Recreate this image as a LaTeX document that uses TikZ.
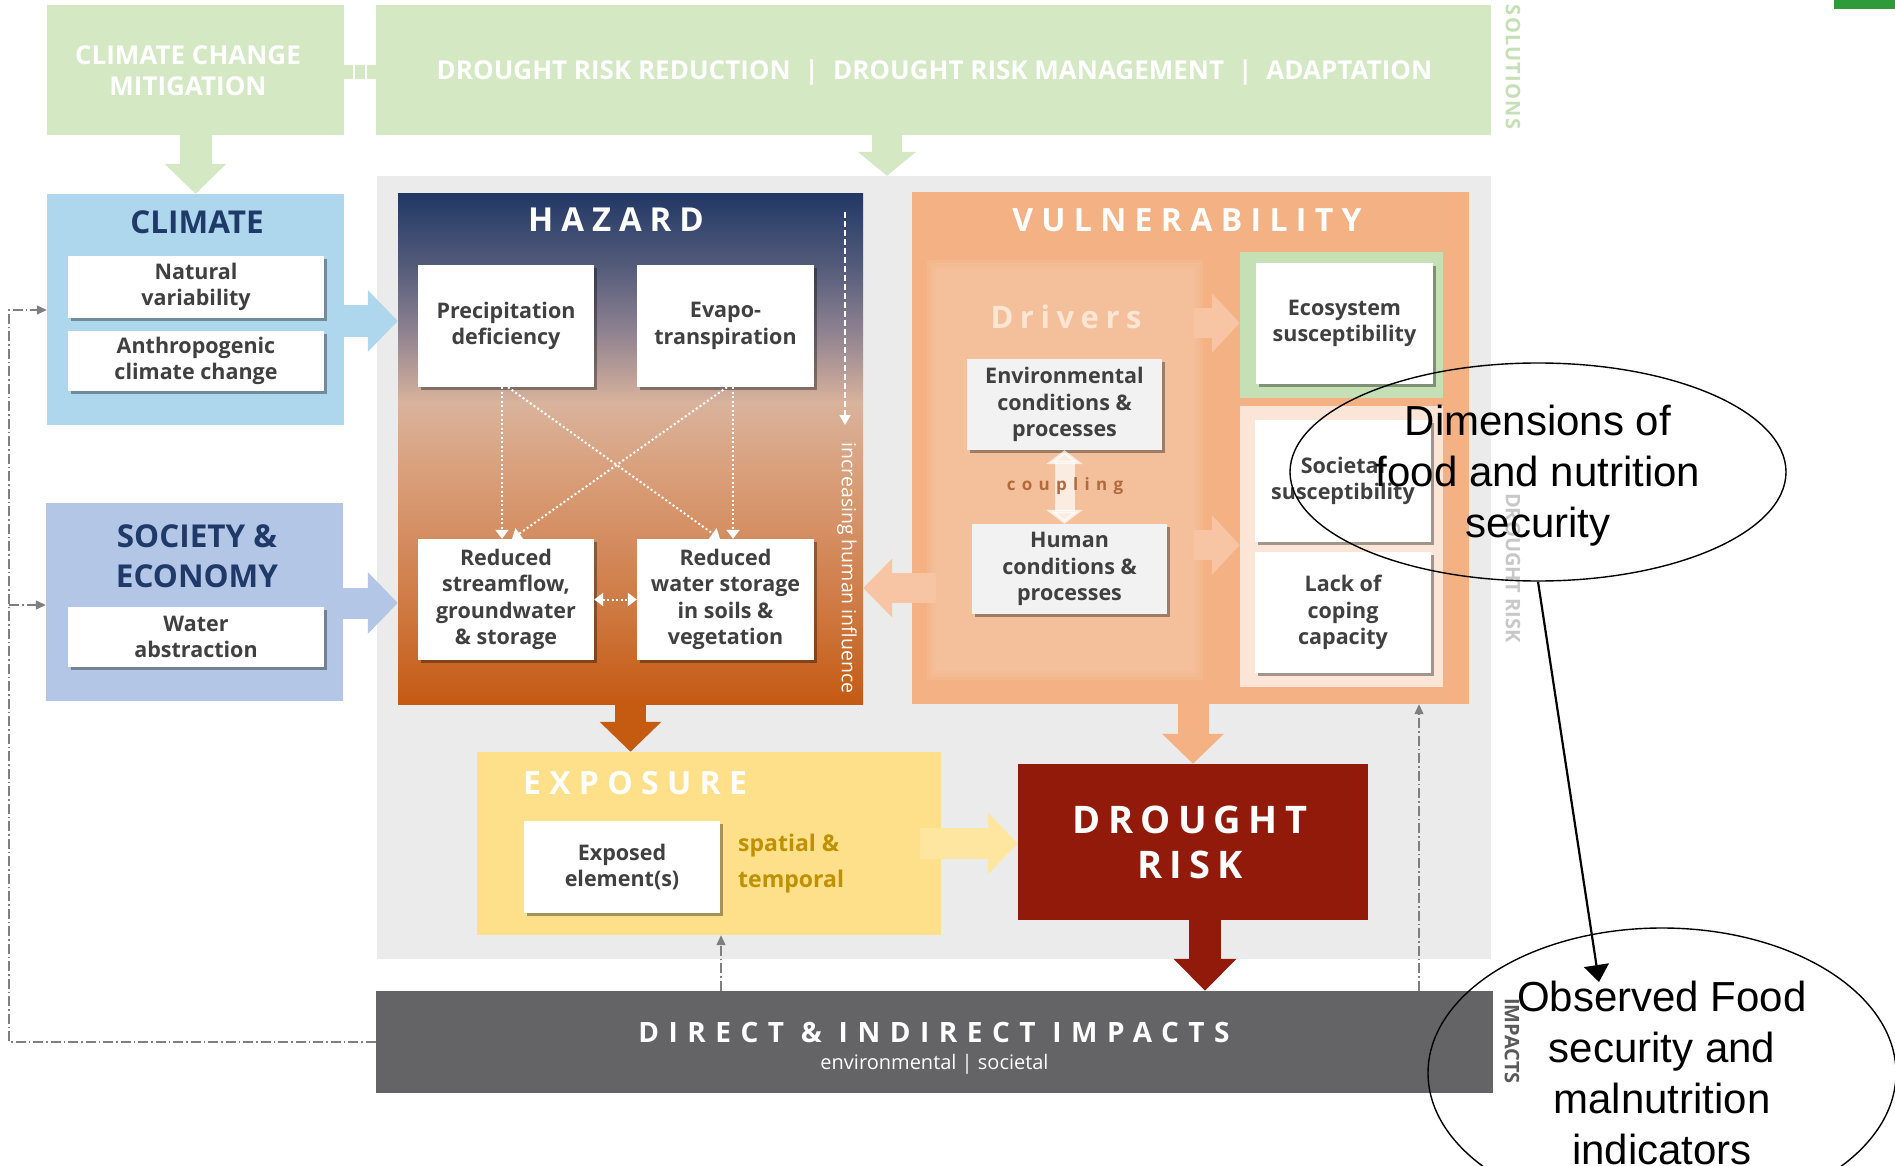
\documentclass[tikz,border=0pt]{standalone}
\usepackage{fontspec}
\setmainfont{Open Sans}
\newfontfamily\arialf{Liberation Sans}
\usetikzlibrary{arrows.meta,shapes.geometric,shadows}
\definecolor{solgreen}{HTML}{D4E8C4}
\definecolor{sollabel}{HTML}{C5E0B4}
\definecolor{topgreen}{HTML}{2E9B3B}
\definecolor{bggrey}{HTML}{EBEBEB}
\definecolor{climblue}{HTML}{AED6EC}
\definecolor{socblue}{HTML}{B4C6E6}
\definecolor{navy}{HTML}{1F3A68}
\definecolor{vulnor}{HTML}{F4B183}
\definecolor{drvfill}{HTML}{F7C5A3}
\definecolor{ecogreen}{HTML}{C5E0B4}
\definecolor{socpeach}{HTML}{FBE5D6}
\definecolor{expyellow}{HTML}{FEE08B}
\definecolor{exparrow}{HTML}{FEE6A0}
\definecolor{drred}{HTML}{921A0A}
\definecolor{impgrey}{HTML}{646466}
\definecolor{txtgrey}{HTML}{404040}
\definecolor{gold}{HTML}{BF9000}
\definecolor{hazarrow}{HTML}{C55A11}
\definecolor{fbgrey}{HTML}{7F7F7F}
\definecolor{drlabel}{HTML}{C8C8C8}
\definecolor{implabel}{HTML}{5A5A5A}
\definecolor{coupbrown}{HTML}{B06A3C}
\definecolor{drvtext}{HTML}{FDE5D4}
\definecolor{envgrey}{HTML}{F2F2F2}
\definecolor{hz0}{HTML}{C55A12}
\definecolor{hz1}{HTML}{CF7B45}
\definecolor{hz2}{HTML}{D9A07C}
\definecolor{hz3}{HTML}{D9B39C}
\definecolor{hz4}{HTML}{8F8291}
\definecolor{hz5}{HTML}{535B7A}
\definecolor{hz6}{HTML}{223865}
\pgfdeclareverticalshading{hazshade}{100bp}{color(0bp)=(hz0); color(25bp)=(hz0); color(35bp)=(hz1); color(48bp)=(hz2); color(54.5bp)=(hz3); color(61.5bp)=(hz4); color(68bp)=(hz5); color(75bp)=(hz6); color(100bp)=(hz6)}
\newcommand{\sptext}[2]{{\addfontfeature{LetterSpace=#1}#2}}
\begin{document}
\begin{tikzpicture}[x=1pt,y=-1pt,
  box/.style={rectangle, inner sep=0pt, draw=none},
  wbox/.style={box, fill=white, drop shadow={shadow xshift=3pt, shadow yshift=-3pt, opacity=0.35, fill=black}, text=txtgrey, font=\bfseries\fontsize{21.5}{26.5}\selectfont, align=center},
  gbox/.style={wbox, fill=envgrey},
  soltext/.style={inner sep=0pt, text=white, font=\bfseries\fontsize{26}{31}\selectfont, align=center},
  title/.style={inner sep=0pt, text=navy, font=\bfseries\fontsize{31.5}{40}\selectfont, align=center},
  wtitle/.style={inner sep=0pt, text=white, font=\bfseries\fontsize{32}{40}\selectfont, align=center},
  sidelabel/.style={inner sep=0pt, rotate=-90, font=\bfseries\fontsize{20}{20}\selectfont},
  barrow/.style={line width=31pt, -{Triangle[length=30pt 0 0, width=60pt 0 0]}},
  dotarr/.style={white, line width=2pt, dash pattern=on 2pt off 2.5pt, -{Triangle[length=9pt 0 0, width=13pt 0 0]}},
  fb/.style={fbgrey, line width=1.2pt, dash pattern=on 10pt off 3pt on 1.5pt off 3pt},
  fbtip/.style={-{Triangle[length=10pt 0 0, width=9pt 0 0]}},
  ann/.style={inner sep=0pt, text=black, font=\arialf\fontsize{42}{51}\selectfont, align=center}]
\clip (0,0) rectangle (1895,1166);
\fill[white] (0,0) rectangle (1895,1166);

% grey background
\node[box, fill=bggrey, minimum width=1114pt, minimum height=783pt] (bg) at (934,567.5) {};

% solutions
\node[box, fill=solgreen, minimum width=297pt, minimum height=130pt] (mit) at (195.5,70) {};
\node[soltext] (mittxt) at (188,71) {CLIMATE CHANGE\\MITIGATION};
\node[box, fill=solgreen, minimum width=1115pt, minimum height=130pt] (drr) at (933.5,70) {};
\node[soltext, anchor=base] (drrtxt) at (934.5,80) {DROUGHT RISK REDUCTION\hspace{14pt}|\hspace{14pt}DROUGHT RISK MANAGEMENT\hspace{14pt}|\hspace{14pt}ADAPTATION};
\node[box, fill=solgreen, minimum width=32pt, minimum height=14pt] (link) at (360,72) {};
\draw[white, line width=2pt] ([xshift=-6pt]link.north) -- ([xshift=-6pt]link.south);
\draw[white, line width=2pt] ([xshift=6pt]link.north) -- ([xshift=6pt]link.south);
\node[box, fill=topgreen, minimum width=61pt, minimum height=9pt] (gbar) at (1864.5,4.5) {};
\node[sidelabel, text=sollabel] (soll) at (1513,67) {\sptext{6}{SOLUTIONS}};

% climate
\node[box, fill=climblue, minimum width=297pt, minimum height=231pt] (climate) at (195.5,309.5) {};
\node[title, anchor=base] (climt) at (197,234) {CLIMATE};
\node[wbox, minimum width=256pt, minimum height=62pt] (natvar) at (196,287) {Natural\\variability};
\node[wbox, minimum width=256pt, minimum height=60pt] (anthro) at (196,361) {Anthropogenic\\climate change};

% society
\node[box, fill=socblue, minimum width=297pt, minimum height=198pt] (society) at (194.5,602) {};
\node[title] (soct) at (197,556) {SOCIETY \&\\ECONOMY};
\node[wbox, minimum width=256pt, minimum height=60pt] (water) at (196,637) {Water\\abstraction};

% hazard
\node[box, shading=hazshade, minimum width=465pt, minimum height=510pt] (hazard) at (630.5,449) {};
\node[wtitle, anchor=base, font=\bfseries\fontsize{33}{40}\selectfont] (hazt) at (616,232) {\sptext{24}{HAZARD}};
\node[wbox, minimum width=176pt, minimum height=122pt] (precip) at (506,326) {Precipitation\\deficiency};
\node[wbox, minimum width=177pt, minimum height=122pt] (evapo) at (725.5,326) {Evapo-\\transpiration};
\node[wbox, minimum width=176pt, minimum height=121pt] (stream) at (506,599.5) {Reduced\\streamflow,\\groundwater\\\& storage};
\node[wbox, minimum width=177pt, minimum height=121pt] (wstor) at (725.5,599.5) {Reduced\\water storage\\in soils \&\\vegetation};
\draw[dotarr] (precip.south -| 502,0) -- (stream.north -| 502,0);
\draw[dotarr] (precip.south -| 508,0) -- (wstor.north -| 720,0);
\draw[dotarr] (evapo.south -| 727,0) -- (stream.north -| 512,0);
\draw[dotarr] (evapo.south -| 733,0) -- (wstor.north -| 733,0);
\draw[dotarr, {Triangle[length=9pt 0 0, width=13pt 0 0]}-{Triangle[length=9pt 0 0, width=13pt 0 0]}] (stream.east) -- (wstor.west);
\coordinate (hiA) at (845,212);
\coordinate (hiB) at (845,425);
\draw[white, line width=1.5pt, dash pattern=on 6pt off 3pt, -{Triangle[length=10pt 0 0, width=11pt 0 0]}] (hiA) -- (hiB);
\node[inner sep=0pt, rotate=-90, text=white, font=\fontsize{19.5}{20}\selectfont] (hitxt) at (847,568) {increasing human influence};

% vulnerability
\node[box, fill=vulnor, minimum width=557pt, minimum height=512pt] (vuln) at (1190.5,448) {};
\node[wtitle, anchor=base] (vulnt) at (1187,232) {\sptext{26}{VULNERABILITY}};
\node[box, fill=drvfill, fill opacity=0.25, minimum width=276pt, minimum height=420pt] (drivers) at (1065,470) {};
\foreach \s in {3,6,9,12}
  \fill[drvfill, opacity=0.3] ([shift={(\s,\s)}]drivers.north west) rectangle ([shift={(-\s,-\s)}]drivers.south east);
\node[inner sep=0pt, anchor=base, text=drvtext, font=\bfseries\fontsize{31}{31}\selectfont] (drvt) at (1066,328) {\sptext{21}{Drivers}};
\node[gbox, minimum width=195pt, minimum height=91pt] (env) at (1064.5,404.5) {Environmental\\conditions \&\\processes};
\node[gbox, minimum width=195pt, minimum height=90pt] (human) at (1069.5,569) {Human\\conditions \&\\processes};
\draw[white, opacity=0.7, line width=20pt, {Triangle[length=14pt 0 0, width=36pt 0 0]}-{Triangle[length=14pt 0 0, width=36pt 0 0]}] (env.south) -- (env.south |- human.north);
\node[inner sep=0pt, text=coupbrown, font=\bfseries\fontsize{17}{17}\selectfont] (coupt) at (1065,486) {\sptext{37}{coupling}};
\node[box, fill=ecogreen, minimum width=203pt, minimum height=146pt] (ecoframe) at (1341.5,325) {};
\node[wbox, minimum width=177pt, minimum height=121pt] (eco) at (1344.5,323.5) {Ecosystem\\susceptibility};
\node[box, fill=socpeach, minimum width=203pt, minimum height=281pt] (socframe) at (1341.5,546.5) {};
\node[wbox, minimum width=176pt, minimum height=122pt] (soc) at (1343,481) {Societal\\susceptibility};
\node[wbox, minimum width=176pt, minimum height=121pt] (lack) at (1343,612.5) {Lack of\\coping\\capacity};
\draw[barrow, drvfill, line width=30pt, -{Triangle[length=28pt 0 0, width=58pt 0 0]}] ([xshift=-9pt]drivers.east |- 0,323) -- (ecoframe.west |- 0,323);
\draw[barrow, drvfill, line width=30pt, -{Triangle[length=28pt 0 0, width=58pt 0 0]}] ([xshift=-9pt]drivers.east |- 0,545) -- (socframe.west |- 0,545);
\draw[barrow, drvfill, line width=30pt, -{Triangle[length=29pt 0 0, width=57pt 0 0]}] ([xshift=9pt]drivers.west |- 0,588) -- (hazard.east |- 0,588);

% exposure
\node[box, fill=expyellow, minimum width=464pt, minimum height=183pt] (exposure) at (709,843.5) {};
\node[wtitle, anchor=base] (expt) at (635,794) {\sptext{26}{EXPOSURE}};
\node[wbox, minimum width=196pt, minimum height=92pt] (exposed) at (622,867) {Exposed\\element(s)};
\node[inner sep=0pt, anchor=west, text=gold, font=\bfseries\fontsize{23}{36}\selectfont, align=left] (spt) at (738,864) {spatial \&\\temporal};

% drought risk
\node[box, fill=drred, minimum width=350pt, minimum height=156pt] (drought) at (1193,842) {};
\node[wtitle, font=\bfseries\fontsize{38}{45}\selectfont] (drt) at (1190,842) {\sptext{19}{DROUGHT}\\\sptext{19}{RISK}};

% impacts
\node[box, fill=impgrey, minimum width=1117pt, minimum height=102pt] (impacts) at (934.5,1042) {};
\node[inner sep=0pt, anchor=base, text=white, font=\bfseries\fontsize{28}{28}\selectfont] (impt) at (934,1042) {\sptext{34}{DIRECT \& INDIRECT IMPACTS}};
\node[inner sep=0pt, anchor=base, text=white, font=\fontsize{20}{20}\selectfont] (imps) at (934.5,1069) {environmental | societal};
\node[sidelabel, text=drlabel] (drl) at (1513,568) {DROUGHT RISK};
\node[sidelabel, text=implabel] (impl) at (1512,1041) {IMPACTS};

% big arrows
\draw[barrow, solgreen, line width=32pt] (mit.south) -- (mit.south |- climate.north);
\draw[barrow, solgreen, line width=30pt, -{Triangle[length=24pt 0 0, width=57pt 0 0]}] (drr.south -| 887,0) -- (bg.north -| 887,0);
\draw[barrow, climblue] (climate.east |- 0,321) -- (hazard.west |- 0,321);
\draw[barrow, socblue] (society.east |- 0,603) -- (hazard.west |- 0,603);
\draw[barrow, hazarrow] (hazard.south) -- (hazard.south |- exposure.north);
\draw[barrow, vulnor] (vuln.south -| drought.north) -- (drought.north);
\draw[barrow, exparrow] ([xshift=-21pt]exposure.east) -- (drought.west |- exposure.east);
\draw[barrow, drred, line width=32pt, -{Triangle[length=32pt 0 0, width=61pt 0 0]}] (drought.south -| 1205,0) -- (impacts.north -| 1205,0);

% feedback lines
\coordinate (fbBL) at (9,1042);
\coordinate (fbTL) at (9,310);
\coordinate (fbML) at (9,605);
\draw[fb, fbtip] (impacts.west) -- (fbBL) -- (fbTL) -- (climate.west |- fbTL);
\draw[fb, fbtip] (fbML) -- (society.west |- fbML);
\draw[fb, fbtip] (impacts.north -| 721,0) -- (exposure.south -| 721,0);
\draw[fb, fbtip] (impacts.north -| 1419,0) -- (vuln.south -| 1419,0);

% annotations
\node[draw, ellipse, line width=1.4pt, inner sep=0pt, minimum width=496pt, minimum height=218pt] (e1) at (1538,472) {};
\node[ann] (e1t) at (1538,476) {Dimensions of\\food and nutrition\\security};
\node[draw, ellipse, line width=1.4pt, inner sep=0pt, minimum width=468pt, minimum height=290pt] (e2) at (1662,1073) {};
\node[ann] (e2t) at (1662,1073) {Observed Food\\security and\\malnutrition\\indicators};
\coordinate (e2tip) at (1599,982);
\draw[line width=2.2pt, -{Triangle[length=17pt 0 0, width=25pt 0 0]}] (e1.south) -- (e2tip);
\end{tikzpicture}
\end{document}
